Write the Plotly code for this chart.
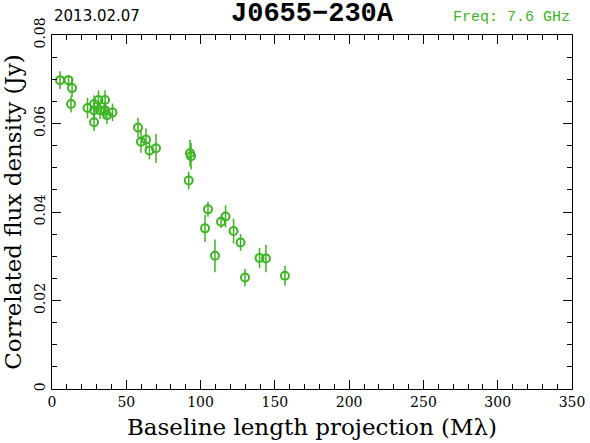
import plotly.graph_objects as go

baseline = [5.4, 11.1, 13.5, 12.8, 23.9, 28.3, 31.3, 35.7, 28.3, 32.3, 35.7, 37.0, 40.7, 28.3,
            57.9, 59.9, 63.3, 65.6, 70.0, 92.9, 93.6, 92.0, 105.0, 103.0, 116.8, 113.8,
            122.2, 126.9, 109.7, 129.9, 139.7, 144.0, 156.8]
flux = [0.0698, 0.0698, 0.0680, 0.0644, 0.0635, 0.0644, 0.0653, 0.0653, 0.0630, 0.0630, 0.0630,
        0.0619, 0.0625, 0.0603, 0.0591, 0.0559, 0.0564, 0.0539, 0.0544, 0.0533, 0.0526, 0.0471,
        0.0406, 0.0363, 0.0390, 0.0378, 0.0357, 0.0331, 0.0301, 0.0252, 0.0296, 0.0295, 0.0256]
flux_err = [0.0020, 0.0012, 0.0020, 0.0019, 0.0023, 0.0020, 0.0022, 0.0022, 0.0022, 0.0020, 0.0020,
            0.0020, 0.0020, 0.0020, 0.0022, 0.0025, 0.0025, 0.0020, 0.0033, 0.0030, 0.0030, 0.0020,
            0.0017, 0.0031, 0.0025, 0.0014, 0.0028, 0.0019, 0.0037, 0.0020, 0.0023, 0.0031, 0.0022]

green = "#3db523"

fig = go.Figure()
fig.add_trace(go.Scatter(
    x=baseline, y=flux, mode="markers",
    marker=dict(symbol="circle-open", size=8, color=green, line=dict(width=2, color=green)),
    error_y=dict(type="data", array=flux_err, color=green, thickness=1.5, width=0),
    showlegend=False,
))

axis_common = dict(
    showgrid=False, zeroline=False, showline=True, linecolor="black", linewidth=1,
    mirror="allticks", ticks="inside", ticklen=9, tickcolor="black", automargin=False,
    tickfont=dict(family="DejaVu Serif", size=14, color="black"),
)

fig.update_xaxes(
    range=[0, 350], tick0=0, dtick=50,
    minor=dict(dtick=10, ticks="inside", ticklen=5, tickcolor="black"),
    title=dict(text="Baseline length projection (M\u03bb)",
               font=dict(family="DejaVu Serif", size=23, color="black"), standoff=10),
    **axis_common,
)
fig.update_yaxes(
    range=[0, 0.08], tick0=0, dtick=0.02, tickangle=-90,
    tickvals=[0, 0.02, 0.04, 0.06, 0.08], ticktext=["0", "0.02", "0.04", "0.06", "0.08"],
    minor=dict(dtick=0.005, ticks="inside", ticklen=5, tickcolor="black"),
    title=dict(text="Correlated flux density (Jy)",
               font=dict(family="DejaVu Serif", size=23, color="black"), standoff=4),
    **axis_common,
)

fig.update_layout(
    width=590, height=443,
    margin=dict(l=52, r=18, t=35, b=54),
    paper_bgcolor="white", plot_bgcolor="white",
    annotations=[
        dict(text="2013.02.07", x=0, xref="paper", y=1.0, yref="paper", yshift=8,
             xanchor="left", yanchor="bottom", showarrow=False,
             font=dict(family="DejaVu Sans", size=15, color="black")),
        dict(text="<b>J0655\u2212230A</b>", x=0.5, xref="paper", y=1.0, yref="paper", yshift=4,
             xanchor="center", yanchor="bottom", showarrow=False,
             font=dict(family="Liberation Mono", size=27, color="black")),
        dict(text="Freq: 7.6 GHz", x=1.0, xref="paper", y=1.0, yref="paper", yshift=7,
             xanchor="right", yanchor="bottom", showarrow=False,
             font=dict(family="Liberation Mono", size=15, color=green)),
    ],
)

fig.write_html("out.html", config={"displayModeBar": False},
               post_script="document.body.style.margin='0px';")
